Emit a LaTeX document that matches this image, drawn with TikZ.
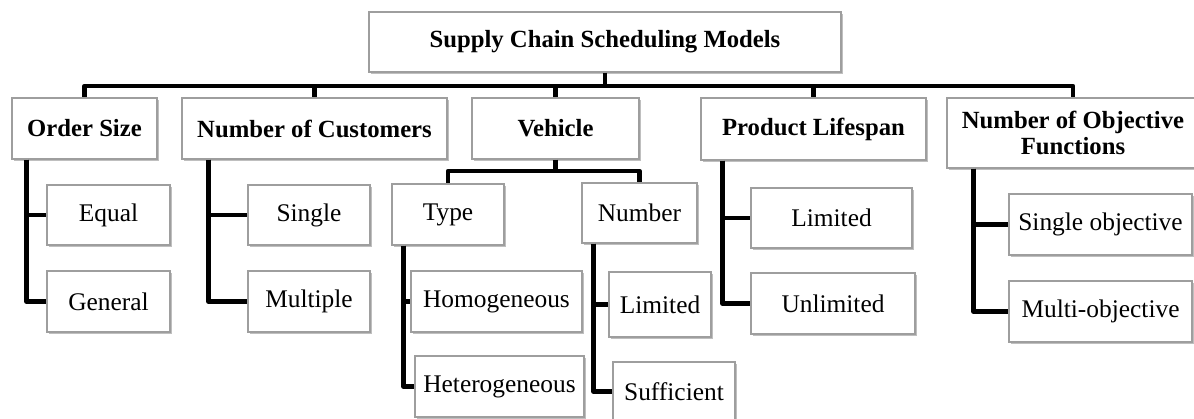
\documentclass[tikz,border=0pt]{standalone}
\usepackage{fontspec}
\setmainfont{Liberation Serif}
\usetikzlibrary{shadows}
\tikzset{
	box/.style={draw=black!38, line width=1.2pt, fill=white, inner sep=0pt, align=center,
		drop shadow={shadow xshift=2pt, shadow yshift=-2.5pt, fill=black, opacity=0.25}},
	wh/.style 2 args={minimum width=#1pt, minimum height=#2pt},
	rootbox/.style={box, font=\fontsize{24.7}{25.5}\selectfont\bfseries},
	catbox/.style={rootbox},
	leafbox/.style={box, font=\fontsize{25.4}{27}\selectfont},
	link/.style={line width=4.5pt, line join=round},
}
\begin{document}
\begin{tikzpicture}[x=1pt, y=-1pt]
	\useasboundingbox (0,0) rectangle (1194,419);
	\node(SCSM) [rootbox, wh={472}{60}] at (605,42) {Supply Chain Scheduling Models};
	\node(OS) [catbox, wh={145}{61}] at (84.5,128.5) {Order Size};
	\node(NC) [catbox, wh={265}{61}] at (314.5,128.5) {Number of Customers};
	\node(V) [catbox, wh={167}{61}] at (555.5,128.5) {Vehicle};
	\node(PL) [catbox, wh={225}{62}] at (813.5,129) {Product Lifespan};
	\node(NOF) [catbox, wh={252}{70}] at (1073,133) {Number of Objective\\Functions};

	\node(Eq) [leafbox, wh={123}{60}] at (108.5,215) {Equal};
	\node(Gen) [leafbox, wh={123}{61}] at (108.5,301.5) {General};
	\node(Sing) [leafbox, wh={122}{60}] at (309,215) {Single};
	\node(Mult) [leafbox, wh={122}{61}] at (309,301.5) {Multiple};
	\node(Type) [leafbox, wh={112}{61}] at (448,214.5) {Type};
	\node(Num) [leafbox, wh={115}{60}] at (639.5,213) {Number};
	\node(Hom) [leafbox, wh={171}{61}] at (496.5,301.5) {Homogeneous};
	\node(Het) [leafbox, wh={169}{61}] at (499.5,386.5) {Heterogeneous};
	\node(Lim) [leafbox, wh={102}{65}] at (660,304.5) {Limited};
	\node(Suf) [leafbox, wh={122}{59}] at (674,391.5) {Sufficient};
	\node(PLim) [leafbox, wh={161}{60}] at (831.5,218) {Limited};
	\node(Unl) [leafbox, wh={164}{61}] at (833,303.5) {Unlimited};
	\node(SO) [leafbox, wh={183}{61}] at (1100.5,224.5) {Single objective};
	\node(MO) [leafbox, wh={183}{61}] at (1100.5,311.5) {Multi-objective};

	\coordinate(bus) at (605,86);
	\coordinate(vbus) at (555.5,171);

	\draw[link] (SCSM.south) -- (bus);
	\draw[link] (bus) -| (OS.north);
	\draw[link] (bus) -| (NC.north);
	\draw[link] (bus) -| (V.north);
	\draw[link] (bus) -| (PL.north);
	\draw[link] (bus) -| (NOF.north);

	\draw[link] ([xshift=15pt]OS.south west) |- (Eq.west);
	\draw[link] ([xshift=15pt]OS.south west) |- (Gen.west);
	\draw[link] ([xshift=27pt]NC.south west) |- (Sing.west);
	\draw[link] ([xshift=27pt]NC.south west) |- (Mult.west);

	\draw[link] (V.south) -- (vbus);
	\draw[link] (vbus) -| (Type.north);
	\draw[link] (vbus) -| (Num.north);
	\draw[link] ([xshift=12pt]Type.south west) |- (Hom.west);
	\draw[link] ([xshift=12pt]Type.south west) |- (Het.west);
	\draw[link] ([xshift=12pt]Num.south west) |- (Lim.west);
	\draw[link] ([xshift=12pt]Num.south west) |- (Suf.west);

	\draw[link] ([xshift=22pt]PL.south west) |- (PLim.west);
	\draw[link] ([xshift=22pt]PL.south west) |- (Unl.west);
	\draw[link] ([xshift=27pt]NOF.south west) |- (SO.west);
	\draw[link] ([xshift=27pt]NOF.south west) |- (MO.west);
\end{tikzpicture}
\end{document}
